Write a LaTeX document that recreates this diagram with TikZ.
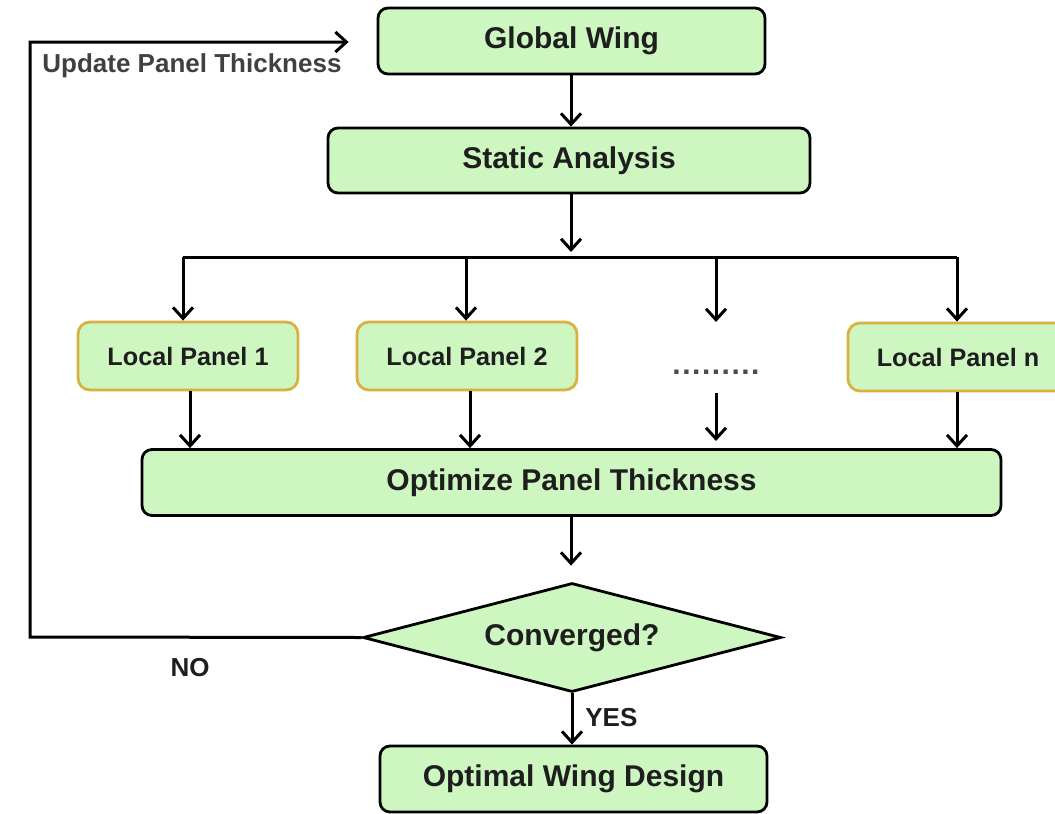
\documentclass[tikz,border=0pt]{standalone}
\usepackage{fontspec}
\setmainfont{Liberation Sans}
\usetikzlibrary{arrows.meta,shapes.geometric}
\definecolor{boxfill}{RGB}{205,246,193}
\definecolor{goldline}{RGB}{218,176,64}
\definecolor{txt}{RGB}{30,30,30}
\tikzset{
  mainbox/.style={draw=black, line width=1.4pt, fill=boxfill, rounded corners=5pt,
    minimum height=33pt, inner sep=0pt, text=txt, font=\fontsize{15}{18}\selectfont\bfseries},
  panelbox/.style={draw=goldline, line width=1.4pt, fill=boxfill, rounded corners=6pt,
    minimum width=110pt, minimum height=34pt, inner sep=0pt, text=txt, font=\fontsize{12.6}{15}\selectfont\bfseries},
  decide/.style={diamond, aspect=3.83, draw=black, line width=1.4pt, fill=boxfill, minimum width=209pt,
    minimum height=54.5pt, inner sep=0pt, text=txt, font=\fontsize{15}{18}\selectfont\bfseries},
  conn/.style={line width=1.5pt, -{Straight Barb[length=5.5pt,width=10pt,line width=1.5pt]}},
  line/.style={line width=1.5pt},
  lbl/.style={text=txt, font=\fontsize{13}{15}\selectfont\bfseries, inner sep=0pt},
}
\begin{document}
\begin{tikzpicture}[x=0.5pt,y=-0.5pt]
\useasboundingbox (0,0) rectangle (1055,814);
\clip (0,0) rectangle (1055,814);
% nodes
\node[mainbox, minimum width=193.5pt] (gw) at (571.5,41) {Global Wing};
\node[mainbox, minimum width=241pt, minimum height=32.5pt] (sa) at (569,160.5) {Static Analysis};
\node[panelbox] (lp1) at (188,356) {Local Panel 1};
\node[panelbox] (lp2) at (467,356) {Local Panel 2};
\node[text=txt!80, font=\fontsize{15}{18}\selectfont\bfseries\addfontfeature{LetterSpace=5}, inner sep=0pt] (dots) at (716,372) {.........};
\node[panelbox] (lpn) at (958,357) {Local Panel n};
\node[mainbox, minimum width=429.5pt] (opt) at (571.5,482.5) {Optimize Panel Thickness};
\node[decide] (conv) at (572,637.5) {Converged?};
\node[mainbox, minimum width=193.5pt] (owd) at (573.5,779) {Optimal Wing Design};
% coordinates
\coordinate (sab) at (571,252);
\coordinate (bl) at (183,257);
\coordinate (b2) at (466,257);
\coordinate (b3) at (716,257);
\coordinate (br) at (957,257);
\coordinate (d3t) at (716,322);
\coordinate (d3a) at (716,393);
\coordinate (d3b) at (716,441);
\coordinate (lc) at (30,637);
\coordinate (tc) at (30,42);
% connectors
\draw[conn] (gw.south -| sab) -- (sa.north -| sab);
\draw[conn] (sa.south -| sab) -- (sab);
\draw[line] (bl) -- (br);
\draw[conn] (bl) -- (bl |- lp1.north);
\draw[conn] (b2) -- (b2 |- lp2.north);
\draw[conn] (b3) -- (d3t);
\draw[conn] (br) -- (br |- lpn.north);
\draw[conn] ([xshift=1pt]lp1.south) -- ([xshift=1pt]lp1.south |- opt.north);
\draw[conn] ([xshift=1.5pt]lp2.south) -- ([xshift=1.5pt]lp2.south |- opt.north);
\draw[conn] (d3a) -- (d3b);
\draw[conn] ([xshift=-0.5pt]lpn.south) -- ([xshift=-0.5pt]lpn.south |- opt.north);
\draw[conn, shorten >=8pt] (opt.south -| sab) -- (conv.north -| sab);
\draw[conn] (conv.south) -- (owd.north -| conv.south);
\draw[conn, shorten >=14pt] (conv.west) -- (lc) -- (tc) -- (gw.west |- tc);
% labels
\node[lbl, anchor=west] (yes) at (585,718) {YES};
\node[lbl] (no) at (190,668) {NO};
\node[lbl, text=txt!85, anchor=west] (upd) at (42,66) {Update Panel Thickness};
\end{tikzpicture}
\end{document}
